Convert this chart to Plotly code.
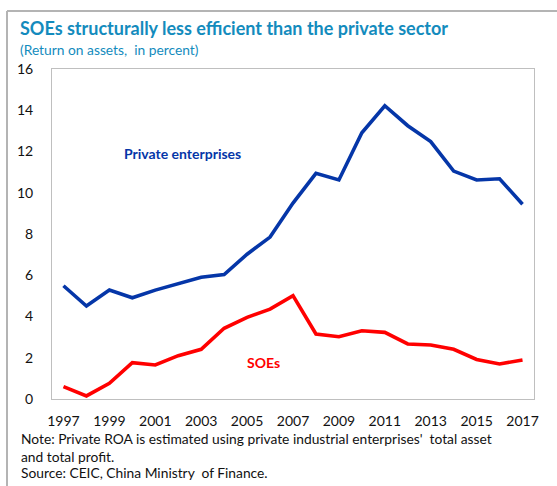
import plotly.graph_objects as go

# Return on assets (percent), 1997-2017
years = list(range(1997, 2018))
private_roa = [5.49, 4.51, 5.28, 4.91, 5.28, 5.59, 5.90, 6.03, 7.02, 7.85, 9.50,
               10.94, 10.62, 12.91, 14.22, 13.25, 12.48, 11.05, 10.62, 10.68, 9.44]
soe_roa = [0.60, 0.15, 0.76, 1.76, 1.65, 2.10, 2.41, 3.43, 3.96, 4.36, 5.01,
           3.15, 3.02, 3.31, 3.23, 2.67, 2.62, 2.41, 1.92, 1.70, 1.89]

title_text = "SOEs structurally less efficient than the private sector"
subtitle_text = "(Return on assets,  in percent)"
note_lines = [
    "Note: Private ROA is estimated using private industrial enterprises'  total asset",
    "and total profit.",
    "Source: CEIC, China Ministry  of Finance.",
]

FONT = "Lato"
TEAL = "#138bbd"
BLUE = "#0536a8"
RED = "#ff0000"

W, H = 557, 486
L, R, T, B = 52, 23, 69, 87
pw, ph = W - L - R, H - T - B


def px(x):
    return (x - L) / pw


def py(y):
    return (H - B - y) / ph


fig = go.Figure()
fig.add_trace(go.Scatter(x=years, y=private_roa, mode="lines",
                         line=dict(color=BLUE, width=3.6), showlegend=False))
fig.add_trace(go.Scatter(x=years, y=soe_roa, mode="lines",
                         line=dict(color=RED, width=3.6), showlegend=False))

annotations = [
    dict(text="<b>Private enterprises</b>", x=2002.17, y=11.88, xref="x", yref="y",
         showarrow=False, font=dict(family=FONT, size=14, color=BLUE)),
    dict(text="<b>SOEs</b>", x=2005.7, y=1.75, xref="x", yref="y",
         showarrow=False, font=dict(family=FONT, size=14, color=RED)),
    dict(text="<b>" + title_text + "</b>", x=px(19), y=py(28.5), xref="paper", yref="paper",
         xanchor="left", yanchor="middle", showarrow=False, borderpad=0,
         font=dict(family=FONT, size=18, color=TEAL)),
    dict(text=subtitle_text, x=px(19), y=py(49), xref="paper", yref="paper",
         xanchor="left", yanchor="middle", showarrow=False, borderpad=0,
         font=dict(family=FONT, size=13.8, color=TEAL)),
]
for i, line in enumerate(note_lines):
    annotations.append(dict(text=line, x=px(20), y=py(439 + 17 * i), xref="paper", yref="paper",
                            xanchor="left", yanchor="middle", showarrow=False, borderpad=0,
                            font=dict(family=FONT, size=13.8, color="#111111")))

shapes = [
    dict(type="line", xref="paper", yref="paper", x0=px(7), x1=px(W + 2), y0=py(11), y1=py(11),
         line=dict(color="#b4b4b4", width=2)),
    dict(type="line", xref="paper", yref="paper", x0=px(7), x1=px(7), y0=py(11), y1=py(H + 2),
         line=dict(color="#b4b4b4", width=2)),
]

fig.update_layout(
    width=W, height=H,
    margin=dict(l=L, r=R, t=T, b=B, pad=0),
    paper_bgcolor="white", plot_bgcolor="white",
    font=dict(family=FONT, size=14, color="#111111"),
    annotations=annotations, shapes=shapes,
    xaxis=dict(range=[1996.5, 2017.5], tickmode="linear", tick0=1997, dtick=2,
               showgrid=False, zeroline=False, showline=True, mirror=True,
               linecolor="#bfbfbf", linewidth=1, ticks="outside", ticklen=9,
               tickcolor="rgba(0,0,0,0)", tickfont=dict(family=FONT, size=14)),
    yaxis=dict(range=[0, 16], tickmode="linear", tick0=0, dtick=2,
               showgrid=False, zeroline=False, showline=True, mirror=True,
               linecolor="#bfbfbf", linewidth=1, ticks="outside", ticklen=15,
               tickcolor="rgba(0,0,0,0)", tickfont=dict(family=FONT, size=14)),
)

fig.write_html("out.html")
